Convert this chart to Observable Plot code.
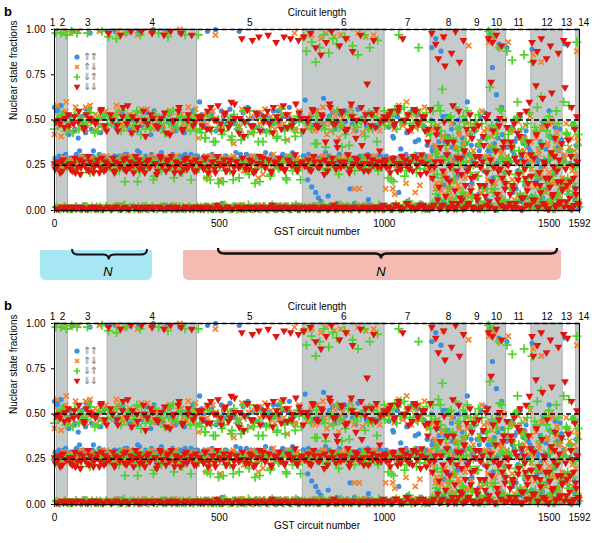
<!DOCTYPE html>
<html><head><meta charset="utf-8">
<script src="https://cdn.jsdelivr.net/npm/d3@7"></script>
<script src="https://cdn.jsdelivr.net/npm/@observablehq/plot@0.6"></script>
<style>
body{margin:0;background:#fff;}
#wrap{position:relative;width:600px;height:543px;overflow:hidden;background:#fff;font-family:"Liberation Sans",Arial,sans-serif;}
.pnl{position:absolute;left:0;}
.tag{position:absolute;left:4px;font-weight:bold;font-size:13px;}
.leg{position:absolute;left:73px;font-size:10px;line-height:10px;color:#7a7a7a;font-family:"DejaVu Sans",sans-serif;}
.leg div{display:flex;align-items:center;height:10.2px;}
.leg svg{margin-right:2px;}
.leg span{letter-spacing:-1.6px;}
</style></head>
<body><div id="wrap">
<div id="p1" class="pnl" style="top:0"></div>
<div id="p2" class="pnl" style="top:294px"></div>
<div class="tag" style="top:4px">b</div>
<div class="tag" style="top:298px">b</div>
<svg id="mid" width="600" height="543" style="position:absolute;left:0;top:0;pointer-events:none"></svg>
<div id="leg1" class="leg" style="top:51.5px"></div>
<div id="leg2" class="leg" style="top:345.5px"></div>
</div>
<script>
// ---- data ----
const lengths = [1,2,3,4,5,6,7,8,9,10,11,12,13,14];
const lengthStart = [0,7,41,161,432,753,1001,1140,1249,1312,1369,1446,1541,1582];
const nCircuits = 1592;
const xTicks = [0,500,1000,1500,1592];
const yTicks = [0,0.25,0.5,0.75,1];
const refLevels = [0,0.25,0.5,1];
const seriesNames = ["⇑⇑","⇑⇓","⇓⇑","⇓⇓"];
const seriesColors = ["#3d8ee0","#f5822a","#4fd22b","#e0150f"];
const sampleStep = 4; // values (percent) read for every 4th GST circuit; set B for the circuits in between

const upUp = [
57,28,
55,2,29,58,1,30,53,27,2,
42,29,1,99,44,27,2,40,33,1,52,26,3,56,28,1,98,45,30,2,49,27,1,31,43,2,51,28,1,99,
2,29,52,1,27,99,3,48,30,1,26,53,2,98,31,1,45,28,2,51,27,1,33,99,2,47,26,1,30,54,2,28,42,1,100,29,2,50,27,1,32,46,2,28,99,1,53,26,3,30,1,44,28,2,98,51,1,27,31,2,49,29,1,26,55,2,30,1,
2,60,28,1,50,27,3,99,30,1,53,26,2,100,29,1,47,28,4,52,1,30,27,2,56,1,29,48,3,26,1,99,31,2,54,28,1,49,27,2,30,51,1,28,3,46,29,1,53,26,2,32,1,50,28,3,27,55,1,29,2,48,26,1,31,52,3,28,1,57,27,2,30,49,1,28,3,53,26,2,
30,61,2,17,1,52,13,28,3,10,48,7,29,5,1,62,27,2,50,30,3,28,54,1,27,4,49,31,2,26,1,55,28,3,30,12,2,48,27,1,29,56,2,28,1,51,30,3,27,6,1,53,29,2,28,47,1,30,3,26,50,2,
2,29,50,1,27,3,40,28,1,52,10,30,2,26,48,1,43,5,29,3,55,27,1,31,2,39,26,4,51,28,1,30,45,2,27,
90,35,3,95,29,1,42,88,27,5,38,52,2,31,17,45,1,28,34,4,50,26,2,40,30,1,37,
60,3,14,36,28,1,44,25,5,33,52,2,29,13,40,1,
2,97,33,79,25,1,64,40,92,4,57,28,15,35,
90,28,3,45,33,1,38,12,27,5,52,30,2,41,24,7,35,19,1,
89,30,3,42,26,1,18,35,7,47,28,2,12,55,31,4,40,24,1,9,33,45,27,3,
30,92,4,17,39,26,2,48,13,28,
25,2];
const upUpB = [
29,2,56,30,1,27,54,2,31,28,1,
52,2,29,1,45,31,2,27,50,1,30,3,43,28,1,56,26,2,33,49,1,28,2,47,30,1,27,53,2,29,
1,51,28,2,30,46,1,27,3,54,29,1,31,48,2,26,1,52,30,2,28,44,1,32,27,2,50,1,29,47,2,26,31,1,55,28,2,45,30,1,27,52,3,29,1,49,26,2,31,46,1,28,2,53,30,1,27,43,2,29,1,50,31,2,26,48,1,30,
2,28,53,1,30,46,2,27,1,51,31,2,29,44,1,26,3,55,28,1,30,48,2,27,1,52,29,3,32,45,1,28,2,50,26,1,31,57,2,29,1,47,27,3,30,53,1,28,2,44,29,1,26,51,2,31,1,48,28,3,55,27,1,30,2,46,29,1,52,26,2,32,49,1,28,3,54,27,1,30,
28,2,50,31,1,27,46,3,30,55,1,26,29,2,48,1,32,27,8,52,2,29,1,45,28,3,30,53,1,26,2,49,31,1,27,57,2,29,4,44,1,28,30,2,51,26,1,47,31,3,27,54,1,29,2,46,28,1,30,50,2,27,
30,2,46,27,1,41,29,3,52,26,1,34,28,2,49,31,5,27,44,1,29,2,38,26,53,3,30,1,47,28,2,36,27,1,50,
33,2,27,45,8,38,1,29,52,14,31,3,41,26,6,35,48,1,30,19,43,2,28,37,9,50,24,
4,31,42,15,27,2,48,36,9,29,1,40,22,54,6,33,
30,3,45,18,37,1,26,50,8,33,42,2,21,38,
35,2,27,46,10,31,1,40,22,53,5,29,37,14,44,3,26,33,8,
31,2,43,17,28,5,38,24,49,1,34,12,27,41,3,30,20,46,7,35,25,2,39,15,
27,3,42,11,33,1,25,47,6,36,
30,1];

const upDown = [
42,99,
58,26,1,41,98,29,2,60,27,
1,98,44,28,2,57,26,99,1,50,27,48,3,45,29,1,58,28,24,2,53,27,1,99,47,30,2,25,55,1,
97,28,2,51,26,1,58,99,27,3,48,29,1,98,24,2,53,30,1,27,45,2,97,26,1,56,28,3,50,25,1,29,99,2,47,27,1,52,30,2,26,44,1,98,28,2,55,27,1,49,3,30,26,1,100,53,2,28,1,46,27,2,51,29,1,25,56,2,
40,27,1,52,29,2,18,48,26,1,30,55,2,97,27,1,16,45,3,28,53,1,26,2,50,29,1,37,28,2,47,25,3,56,1,29,22,2,51,27,1,30,46,2,28,1,54,26,3,20,49,1,29,2,27,52,1,31,45,2,26,1,57,28,3,48,27,1,30,53,2,26,1,98,44,29,2,27,51,1,
96,27,2,50,29,1,97,45,26,3,55,28,1,95,30,2,48,98,27,1,44,26,3,96,52,2,29,1,97,47,27,2,30,95,1,53,26,2,44,28,1,98,12,3,50,27,1,96,29,2,45,26,1,97,30,55,2,28,1,49,27,2,
12,27,2,53,29,1,48,9,26,3,58,28,2,47,30,1,60,25,4,52,27,1,46,29,3,55,14,2,28,50,1,26,44,2,29,
18,45,3,12,33,28,1,15,40,96,20,2,38,11,29,48,5,17,35,1,14,42,26,3,19,31,8,
42,91,9,30,2,47,18,26,1,38,10,55,4,29,22,45,
93,36,2,28,95,15,44,1,90,22,33,6,50,27,
30,93,4,44,17,36,2,51,26,9,40,21,1,33,47,13,28,3,38,
28,86,5,40,19,33,2,82,45,12,26,4,37,21,50,8,30,15,1,43,24,6,35,18,
3,31,48,16,25,2,40,10,33,20,
88,38];
const upDownB = [
27,1,52,24,2,47,29,1,55,25,2,
28,48,1,26,2,53,24,1,45,30,2,27,57,1,22,49,2,29,1,44,26,2,51,28,1,25,46,2,30,1,
26,2,49,28,1,24,55,2,27,1,46,30,2,25,51,1,28,43,2,26,1,53,29,2,24,48,1,27,2,56,25,1,30,45,2,28,1,50,26,2,23,47,1,29,2,54,27,1,44,25,2,30,52,1,26,2,48,28,1,24,57,2,27,1,45,29,2,50,
27,1,48,25,2,30,53,1,20,45,2,28,1,51,26,3,17,47,29,1,54,24,2,27,40,1,30,50,2,25,1,46,28,3,22,55,1,27,2,43,29,1,52,24,2,18,48,1,30,2,56,26,1,44,28,3,25,50,1,29,2,47,23,1,53,27,2,39,30,1,49,26,3,45,28,1,55,24,2,51,
28,1,46,26,2,53,29,1,44,27,3,50,25,1,57,30,2,42,28,1,48,26,2,55,24,1,40,29,3,51,27,1,45,30,2,56,25,1,12,28,2,49,26,1,43,29,3,54,27,1,47,25,2,30,52,1,28,44,2,26,1,50,
26,2,50,29,1,12,45,27,3,55,24,1,48,30,2,15,53,26,1,44,28,3,10,51,25,1,47,29,2,57,27,1,42,30,2,
22,4,36,15,47,2,28,11,41,19,1,33,13,50,7,26,39,16,3,30,44,12,25,1,37,18,48,
27,5,40,13,33,1,48,20,8,36,24,2,44,11,30,17,
3,29,41,12,35,1,24,47,9,31,18,2,38,26,
21,2,36,12,44,6,29,17,49,1,33,9,26,40,4,31,14,52,23,
2,27,13,42,6,31,19,46,1,24,10,36,4,29,15,48,3,22,38,8,33,1,26,17,
29,4,41,12,35,1,22,46,8,30,
41,5];

const downUp = [
45,98,
50,24,1,98,53,27,2,97,46,
26,1,99,43,22,2,98,52,28,1,47,48,25,2,98,54,21,1,50,27,28,2,44,26,1,99,53,23,2,47,
96,24,1,51,27,2,95,48,22,1,55,26,3,98,46,25,1,52,28,2,49,23,16,1,97,54,27,2,45,24,1,50,28,2,17,53,26,1,98,47,22,2,51,25,1,96,48,29,2,55,23,1,46,27,2,52,21,1,97,49,26,2,44,28,1,53,24,2,
97,45,2,26,1,40,23,52,2,17,44,1,27,38,2,50,24,1,42,16,3,28,47,1,22,39,2,53,25,1,45,18,2,27,41,1,48,23,3,55,26,1,43,15,2,29,46,1,24,38,2,51,27,1,44,20,3,25,49,1,41,23,2,56,26,1,39,17,2,47,28,1,45,24,3,52,22,1,43,27,
96,2,88,26,1,48,93,25,2,82,37,1,90,27,3,97,45,23,1,87,50,2,95,24,1,92,28,46,3,35,1,96,26,2,53,22,1,91,47,3,27,86,1,50,24,2,97,29,1,45,90,23,2,52,1,27,94,3,48,25,1,55,
25,2,18,52,27,1,16,56,3,24,97,49,1,28,57,2,22,53,5,26,1,48,30,2,55,90,23,3,47,28,1,54,25,2,42,
26,55,3,31,20,58,6,44,67,2,28,36,9,51,24,4,40,17,57,1,33,46,8,27,52,3,38,
55,3,21,44,7,30,50,2,19,37,5,48,26,1,41,12,
99,68,4,35,97,12,46,1,90,28,55,6,39,21,
88,42,5,27,83,14,50,2,60,33,9,45,22,86,3,38,16,54,7,
82,5,46,19,57,3,35,63,10,28,2,44,15,52,6,31,1,40,22,8,48,4,26,13,
60,4,43,18,58,2,30,9,47,24,
93,42];
const downUpB = [
25,2,47,22,1,52,27,2,44,24,1,
49,26,1,23,53,2,28,45,1,21,50,2,25,47,1,27,54,2,22,43,1,29,51,2,24,1,46,26,2,52,
24,1,48,27,2,22,53,1,29,44,2,25,16,1,51,28,2,23,47,1,26,55,2,21,42,1,28,50,2,25,1,45,27,2,19,53,1,24,48,2,29,1,43,22,2,54,26,1,47,18,2,27,50,1,23,45,2,28,1,52,25,2,17,49,1,26,44,2,
23,1,43,26,2,40,18,1,52,24,2,38,27,1,46,15,2,29,1,44,22,2,50,25,1,41,17,2,28,47,1,24,39,2,55,26,1,42,20,2,27,1,45,23,2,38,16,1,51,28,2,43,25,1,19,48,2,26,1,40,24,2,53,27,1,44,18,2,29,1,46,22,2,41,25,1,49,17,2,27,
26,1,48,23,2,45,28,1,37,52,2,24,1,46,27,2,35,22,1,50,29,2,44,25,1,55,20,2,47,27,1,42,24,2,36,28,1,53,22,2,46,26,1,49,29,2,41,23,1,54,25,2,45,27,1,38,22,2,51,26,1,47,
2,25,47,1,17,53,28,2,45,22,1,56,26,3,19,50,2,24,48,1,29,54,2,21,46,3,27,1,52,23,2,44,26,1,49,
4,24,47,9,33,2,55,18,28,6,41,1,30,13,52,3,22,38,7,45,26,2,35,10,49,5,27,
2,31,48,8,25,44,3,19,53,1,36,12,28,4,40,22,
3,26,47,10,33,1,42,19,56,5,29,2,38,15,
4,29,12,45,2,33,20,51,6,26,40,1,16,37,8,48,3,24,30,
3,30,8,44,1,22,12,37,5,49,17,2,28,41,6,19,33,1,55,10,25,4,36,14,
2,27,42,9,33,1,47,15,24,5,
36,2];

const downDown = [
26,49,
24,1,48,27,22,1,51,25,2,
47,23,1,26,52,21,2,49,28,24,1,46,25,53,1,22,27,50,2,24,48,26,1,21,55,29,1,47,23,26,
98,25,1,50,22,27,2,44,26,97,1,57,23,29,48,1,24,99,52,21,2,26,46,28,1,99,23,50,41,27,2,24,53,98,1,26,47,22,2,30,51,25,97,1,43,28,24,99,2,49,21,27,1,55,26,98,44,23,2,29,50,25,1,97,47,22,28,2,
52,26,1,47,23,29,2,55,24,45,1,27,50,21,3,58,26,48,1,25,53,22,2,46,28,60,1,24,51,27,2,43,25,95,1,49,23,56,2,28,47,94,21,1,54,26,96,44,2,29,52,24,1,97,48,22,3,57,27,93,1,50,25,45,2,96,23,53,28,1,95,47,26,2,59,22,94,1,51,27,
96,25,1,49,23,98,2,55,27,90,1,46,24,86,52,2,28,93,22,1,57,99,26,3,48,38,1,91,24,54,2,27,95,45,1,23,59,88,2,29,50,25,1,97,36,26,2,53,70,22,1,47,28,94,2,56,24,1,49,27,3,52,
27,51,2,24,55,1,29,48,3,22,57,26,1,95,50,28,4,53,23,2,46,30,1,55,25,49,3,27,52,2,44,21,38,1,56,
98,2,24,92,45,84,1,27,3,96,80,18,38,2,24,87,58,1,99,22,4,82,29,6,94,33,2,
22,4,53,18,2,45,26,8,1,30,24,2,41,14,51,3,
95,2,71,93,24,1,97,6,47,23,91,35,2,15,
46,25,4,38,2,12,29,2,43,20,53,7,1,27,18,3,15,60,31,
93,82,6,69,88,2,14,95,62,27,3,84,1,18,91,65,9,30,2,22,87,4,16,11,
94,68,5,92,2,16,57,25,3,12,
52,4];
const downDownB = [
23,1,27,50,21,2,28,46,25,1,53,
26,2,22,48,29,1,24,55,20,2,27,45,1,23,30,51,2,25,21,1,49,28,2,24,56,1,22,27,44,2,
25,53,1,29,21,2,47,26,24,1,52,28,2,22,58,1,27,43,25,2,30,50,1,23,26,2,55,21,1,48,28,24,2,51,1,26,20,46,2,29,25,1,54,22,27,2,42,30,1,50,24,2,26,57,21,1,45,28,2,23,53,1,27,25,2,49,22,1,
26,2,52,24,1,29,45,21,2,57,27,1,23,50,30,2,25,44,1,28,54,22,2,26,48,1,21,59,27,2,24,51,1,29,41,2,25,56,23,1,27,47,2,22,53,1,30,26,2,49,24,1,55,28,2,21,43,1,26,52,2,29,24,1,58,22,2,46,27,1,25,50,2,31,23,1,54,26,2,44,
25,2,51,28,1,22,56,30,2,47,24,1,27,53,2,20,38,1,26,59,2,29,48,1,23,35,2,27,55,1,25,44,2,31,21,1,52,26,2,40,28,1,24,57,2,22,49,1,30,26,2,53,25,1,46,27,2,33,24,1,50,28,
24,2,53,21,1,28,47,3,26,55,2,23,30,1,50,25,4,44,27,2,22,56,1,29,48,2,20,31,3,52,26,1,45,24,2,
18,3,27,42,6,13,35,2,22,49,8,31,1,16,25,4,38,11,2,29,55,7,20,1,33,14,45,
3,24,11,40,1,19,30,6,47,14,2,27,36,8,21,53,
5,28,16,44,1,33,9,22,51,3,18,38,12,26,
2,21,9,35,14,48,4,27,17,41,1,31,7,23,55,11,38,3,19,
6,29,15,42,2,21,10,36,4,26,18,47,1,13,32,8,24,40,3,16,28,5,37,12,
2,23,14,39,7,30,1,18,45,9,
27,3];

// ---- derived tables ----
const segments = lengths.map((L,i)=>({L, start: lengthStart[i], end: i+1<lengthStart.length ? lengthStart[i+1] : nCircuits}));
const shaded = segments.filter(s => s.L % 2 === 0);
const rows = (arr, offset) => arr.map((v,i)=>({c: i*sampleStep + offset, f: v/100}));

const triangleDown = {
  draw(ctx, size){
    const h = Math.sqrt(size/(Math.sqrt(3)*3));
    ctx.moveTo(0, 2*h);
    ctx.lineTo(-Math.sqrt(3)*h, -h);
    ctx.lineTo(Math.sqrt(3)*h, -h);
    ctx.closePath();
  }
};

function panel(){
  const blue = [...rows(upUp,0), ...rows(upUpB,2)];
  const orange = [...rows(upDown,0), ...rows(upDownB,2)];
  const green = [...rows(downUp,0), ...rows(downUpB,2)];
  const red = [...rows(downDown,0), ...rows(downDownB,2)];
  return Plot.plot({
    width: 600, height: 243,
    marginLeft: 54, marginRight: 21, marginTop: 29, marginBottom: 33,
    style: {fontFamily: '"Liberation Sans", Arial, sans-serif', fontSize: "10px", background: "transparent", color: "black", overflow: "visible"},
    x: {domain: [0, nCircuits], ticks: xTicks, tickFormat: d => String(d), tickSize: 3, label: null},
    y: {domain: [0, 1], ticks: yTicks, tickFormat: d3.format(".2f"), tickSize: 3, label: null},
    marks: [
      Plot.rect(shaded, {x1: "start", x2: "end", y1: 0, y2: 1, fill: "#c5caca", stroke: "#a8afaf", strokeWidth: 1}),
      Plot.dot(blue, {x: "c", y: "f", r: 2.6, fill: seriesColors[0], symbol: "circle"}),
      Plot.dot(orange, {x: "c", y: "f", r: 2.5, stroke: seriesColors[1], strokeWidth: 1.7, symbol: "times"}),
      Plot.dot(green, {x: "c", y: "f", r: 3, stroke: seriesColors[2], strokeWidth: 1.7, symbol: "plus"}),
      Plot.dot(red, {x: "c", y: "f", r: 2.9, fill: seriesColors[3], symbol: triangleDown}),
      Plot.ruleY(refLevels, {stroke: "black", strokeWidth: 1.6, strokeDasharray: "5,3"}),
      Plot.frame({stroke: "black", strokeWidth: 1}),
      Plot.text(segments.filter(d => d.L > 1 && d.L < 13), {x: d => (d.start + d.end)/2, y: 1, text: d => String(d.L), dy: -7, fontSize: 10}),
      Plot.text(segments.filter(d => d.L === 1), {x: d => (d.start + d.end)/2, y: 1, text: d => String(d.L), dy: -7, dx: -3, fontSize: 10}),
      Plot.text(segments.filter(d => d.L === 13), {x: d => (d.start + d.end)/2, y: 1, text: d => String(d.L), dy: -7, dx: -3, fontSize: 10}),
      Plot.text(segments.filter(d => d.L === 14), {x: d => (d.start + d.end)/2, y: 1, text: d => String(d.L), dy: -7, dx: 6, fontSize: 10}),
      Plot.text(["Circuit length"], {frameAnchor: "top", text: d => d, dy: -21, fontSize: 10}),
      Plot.text(["GST circuit number"], {frameAnchor: "bottom", text: d => d, dy: 24, fontSize: 10}),
      Plot.text(["Nuclear state fractions"], {frameAnchor: "left", text: d => d, dx: -41, rotate: -90, fontSize: 10})
    ]
  });
}
document.getElementById("p1").appendChild(panel());
document.getElementById("p2").appendChild(panel());

// legends
function legendHTML(){
  const syms = [
    '<circle cx="4" cy="4" r="2.6" fill="'+seriesColors[0]+'"/>',
    '<path d="M2,2L6,6M6,2L2,6" stroke="'+seriesColors[1]+'" stroke-width="1.7"/>',
    '<path d="M4,0.8V7.2M0.8,4H7.2" stroke="'+seriesColors[2]+'" stroke-width="1.7"/>',
    '<path d="M0.6,1.8H7.4L4,7.4Z" fill="'+seriesColors[3]+'"/>'
  ];
  return seriesNames.map((n,i)=>'<div><svg width="8" height="8" viewBox="0 0 8 8">'+syms[i]+'</svg><span>'+n+'</span></div>').join("");
}
document.getElementById("leg1").innerHTML = legendHTML();
document.getElementById("leg2").innerHTML = legendHTML();

// middle annotation boxes with braces
const mid = d3.select("#mid");
mid.append("path").attr("d","M40,250H152V274Q152,280 146,280H46Q40,280 40,274Z").attr("fill","#a6e7f3");
mid.append("path").attr("d","M183,250H561V274Q561,280 555,280H189Q183,280 183,274Z").attr("fill","#f4bbb3");
mid.append("path").attr("d","M72,249Q72,254.5 78,254.5H103Q108.7,254.5 108.7,259.5Q108.7,254.5 114.5,254.5H141Q147,254.5 147,249").attr("fill","none").attr("stroke","#111").attr("stroke-width",2);
mid.append("path").attr("d","M218,248Q218,253.5 224,253.5H375Q381,253.5 381,258.5Q381,253.5 387,253.5H551Q557,253.5 557,248").attr("fill","none").attr("stroke","#111").attr("stroke-width",2.4);
mid.append("text").attr("x",108).attr("y",275.5).attr("text-anchor","middle").attr("font-style","italic").attr("font-size",13).attr("font-family","Liberation Sans, Arial, sans-serif").text("N");
mid.append("text").attr("x",381).attr("y",275.5).attr("text-anchor","middle").attr("font-style","italic").attr("font-size",13).attr("font-family","Liberation Sans, Arial, sans-serif").text("N");
</script>
</body></html>
